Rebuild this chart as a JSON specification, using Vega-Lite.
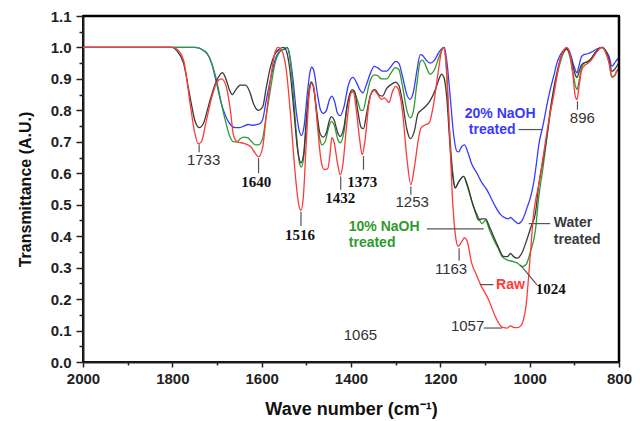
{
  "$schema": "https://vega.github.io/schema/vega-lite/v6.json",
  "width": 536,
  "height": 346,
  "autosize": "none",
  "padding": {"left": 83, "top": 16, "right": 21, "bottom": 59},
  "background": "white",
  "config": {
    "view": {"stroke": "#000", "strokeWidth": 2},
    "font": "Liberation Sans"
  },
  "datasets": {
    "spec": [
      {"s":"20% NaOH","w":2000,"v":1},{"s":"20% NaOH","w":1900,"v":1},{"s":"20% NaOH","w":1800,"v":1},{"s":"20% NaOH","w":1750,"v":1},{"s":"20% NaOH","w":1740,"v":0.998},{"s":"20% NaOH","w":1730,"v":0.99},{"s":"20% NaOH","w":1722,"v":0.98},{"s":"20% NaOH","w":1712,"v":0.95},{"s":"20% NaOH","w":1700,"v":0.88},{"s":"20% NaOH","w":1690,"v":0.82},{"s":"20% NaOH","w":1680,"v":0.78},{"s":"20% NaOH","w":1670,"v":0.755},{"s":"20% NaOH","w":1660,"v":0.745},{"s":"20% NaOH","w":1650,"v":0.745},{"s":"20% NaOH","w":1640,"v":0.75},{"s":"20% NaOH","w":1630,"v":0.755},{"s":"20% NaOH","w":1620,"v":0.752},{"s":"20% NaOH","w":1612,"v":0.755},{"s":"20% NaOH","w":1605,"v":0.757},{"s":"20% NaOH","w":1598,"v":0.77},{"s":"20% NaOH","w":1590,"v":0.83},{"s":"20% NaOH","w":1580,"v":0.9},{"s":"20% NaOH","w":1570,"v":0.96},{"s":"20% NaOH","w":1558,"v":0.99},{"s":"20% NaOH","w":1548,"v":0.995},{"s":"20% NaOH","w":1543,"v":1},{"s":"20% NaOH","w":1538,"v":0.98},{"s":"20% NaOH","w":1530,"v":0.9},{"s":"20% NaOH","w":1522,"v":0.79},{"s":"20% NaOH","w":1515,"v":0.73},{"s":"20% NaOH","w":1511,"v":0.72},{"s":"20% NaOH","w":1505,"v":0.75},{"s":"20% NaOH","w":1498,"v":0.85},{"s":"20% NaOH","w":1492,"v":0.92},{"s":"20% NaOH","w":1488,"v":0.937},{"s":"20% NaOH","w":1483,"v":0.925},{"s":"20% NaOH","w":1476,"v":0.86},{"s":"20% NaOH","w":1468,"v":0.8},{"s":"20% NaOH","w":1462,"v":0.79},{"s":"20% NaOH","w":1455,"v":0.8},{"s":"20% NaOH","w":1448,"v":0.835},{"s":"20% NaOH","w":1443,"v":0.845},{"s":"20% NaOH","w":1437,"v":0.83},{"s":"20% NaOH","w":1430,"v":0.79},{"s":"20% NaOH","w":1424,"v":0.783},{"s":"20% NaOH","w":1416,"v":0.81},{"s":"20% NaOH","w":1406,"v":0.88},{"s":"20% NaOH","w":1396,"v":0.905},{"s":"20% NaOH","w":1388,"v":0.89},{"s":"20% NaOH","w":1380,"v":0.865},{"s":"20% NaOH","w":1373,"v":0.856},{"s":"20% NaOH","w":1366,"v":0.88},{"s":"20% NaOH","w":1356,"v":0.92},{"s":"20% NaOH","w":1348,"v":0.94},{"s":"20% NaOH","w":1340,"v":0.935},{"s":"20% NaOH","w":1330,"v":0.925},{"s":"20% NaOH","w":1320,"v":0.925},{"s":"20% NaOH","w":1310,"v":0.94},{"s":"20% NaOH","w":1300,"v":0.956},{"s":"20% NaOH","w":1293,"v":0.95},{"s":"20% NaOH","w":1285,"v":0.91},{"s":"20% NaOH","w":1275,"v":0.85},{"s":"20% NaOH","w":1268,"v":0.835},{"s":"20% NaOH","w":1260,"v":0.86},{"s":"20% NaOH","w":1252,"v":0.93},{"s":"20% NaOH","w":1245,"v":0.977},{"s":"20% NaOH","w":1240,"v":0.975},{"s":"20% NaOH","w":1232,"v":0.96},{"s":"20% NaOH","w":1223,"v":0.95},{"s":"20% NaOH","w":1213,"v":0.96},{"s":"20% NaOH","w":1203,"v":0.985},{"s":"20% NaOH","w":1195,"v":0.998},{"s":"20% NaOH","w":1191,"v":1},{"s":"20% NaOH","w":1185,"v":0.95},{"s":"20% NaOH","w":1178,"v":0.845},{"s":"20% NaOH","w":1170,"v":0.72},{"s":"20% NaOH","w":1163,"v":0.67},{"s":"20% NaOH","w":1159,"v":0.668},{"s":"20% NaOH","w":1152,"v":0.685},{"s":"20% NaOH","w":1146,"v":0.69},{"s":"20% NaOH","w":1138,"v":0.665},{"s":"20% NaOH","w":1130,"v":0.63},{"s":"20% NaOH","w":1118,"v":0.6},{"s":"20% NaOH","w":1107,"v":0.57},{"s":"20% NaOH","w":1096,"v":0.548},{"s":"20% NaOH","w":1086,"v":0.52},{"s":"20% NaOH","w":1077,"v":0.495},{"s":"20% NaOH","w":1066,"v":0.47},{"s":"20% NaOH","w":1055,"v":0.458},{"s":"20% NaOH","w":1048,"v":0.455},{"s":"20% NaOH","w":1043,"v":0.46},{"s":"20% NaOH","w":1035,"v":0.45},{"s":"20% NaOH","w":1025,"v":0.44},{"s":"20% NaOH","w":1015,"v":0.455},{"s":"20% NaOH","w":1006,"v":0.49},{"s":"20% NaOH","w":997,"v":0.53},{"s":"20% NaOH","w":991,"v":0.57},{"s":"20% NaOH","w":985,"v":0.63},{"s":"20% NaOH","w":980,"v":0.686},{"s":"20% NaOH","w":969,"v":0.76},{"s":"20% NaOH","w":961,"v":0.82},{"s":"20% NaOH","w":954,"v":0.866},{"s":"20% NaOH","w":946,"v":0.91},{"s":"20% NaOH","w":939,"v":0.95},{"s":"20% NaOH","w":932,"v":0.975},{"s":"20% NaOH","w":925,"v":0.99},{"s":"20% NaOH","w":917,"v":0.997},{"s":"20% NaOH","w":910,"v":0.985},{"s":"20% NaOH","w":903,"v":0.95},{"s":"20% NaOH","w":897,"v":0.925},{"s":"20% NaOH","w":894,"v":0.919},{"s":"20% NaOH","w":890,"v":0.94},{"s":"20% NaOH","w":884,"v":0.97},{"s":"20% NaOH","w":879,"v":0.977},{"s":"20% NaOH","w":870,"v":0.98},{"s":"20% NaOH","w":862,"v":0.985},{"s":"20% NaOH","w":850,"v":0.995},{"s":"20% NaOH","w":838,"v":1},{"s":"20% NaOH","w":830,"v":0.99},{"s":"20% NaOH","w":822,"v":0.97},{"s":"20% NaOH","w":816,"v":0.94},{"s":"20% NaOH","w":810,"v":0.95},{"s":"20% NaOH","w":805,"v":0.96},{"s":"20% NaOH","w":800,"v":0.967},

      {"s":"10% NaOH","w":2000,"v":1},{"s":"10% NaOH","w":1900,"v":1},{"s":"10% NaOH","w":1800,"v":1},{"s":"10% NaOH","w":1750,"v":1},{"s":"10% NaOH","w":1740,"v":0.998},{"s":"10% NaOH","w":1730,"v":0.99},{"s":"10% NaOH","w":1722,"v":0.98},{"s":"10% NaOH","w":1712,"v":0.95},{"s":"10% NaOH","w":1700,"v":0.89},{"s":"10% NaOH","w":1690,"v":0.82},{"s":"10% NaOH","w":1680,"v":0.76},{"s":"10% NaOH","w":1672,"v":0.72},{"s":"10% NaOH","w":1663,"v":0.7},{"s":"10% NaOH","w":1655,"v":0.7},{"s":"10% NaOH","w":1648,"v":0.71},{"s":"10% NaOH","w":1640,"v":0.715},{"s":"10% NaOH","w":1632,"v":0.713},{"s":"10% NaOH","w":1622,"v":0.7},{"s":"10% NaOH","w":1614,"v":0.69},{"s":"10% NaOH","w":1607,"v":0.69},{"s":"10% NaOH","w":1598,"v":0.71},{"s":"10% NaOH","w":1590,"v":0.78},{"s":"10% NaOH","w":1580,"v":0.87},{"s":"10% NaOH","w":1570,"v":0.95},{"s":"10% NaOH","w":1560,"v":0.985},{"s":"10% NaOH","w":1550,"v":0.995},{"s":"10% NaOH","w":1543,"v":1},{"s":"10% NaOH","w":1538,"v":0.98},{"s":"10% NaOH","w":1530,"v":0.87},{"s":"10% NaOH","w":1522,"v":0.72},{"s":"10% NaOH","w":1515,"v":0.63},{"s":"10% NaOH","w":1511,"v":0.62},{"s":"10% NaOH","w":1506,"v":0.65},{"s":"10% NaOH","w":1500,"v":0.76},{"s":"10% NaOH","w":1493,"v":0.87},{"s":"10% NaOH","w":1489,"v":0.89},{"s":"10% NaOH","w":1484,"v":0.875},{"s":"10% NaOH","w":1477,"v":0.79},{"s":"10% NaOH","w":1470,"v":0.71},{"s":"10% NaOH","w":1465,"v":0.69},{"s":"10% NaOH","w":1458,"v":0.7},{"s":"10% NaOH","w":1450,"v":0.745},{"s":"10% NaOH","w":1444,"v":0.765},{"s":"10% NaOH","w":1438,"v":0.755},{"s":"10% NaOH","w":1430,"v":0.71},{"s":"10% NaOH","w":1424,"v":0.697},{"s":"10% NaOH","w":1416,"v":0.73},{"s":"10% NaOH","w":1408,"v":0.82},{"s":"10% NaOH","w":1398,"v":0.86},{"s":"10% NaOH","w":1392,"v":0.855},{"s":"10% NaOH","w":1385,"v":0.83},{"s":"10% NaOH","w":1378,"v":0.8},{"s":"10% NaOH","w":1373,"v":0.8},{"s":"10% NaOH","w":1366,"v":0.84},{"s":"10% NaOH","w":1358,"v":0.89},{"s":"10% NaOH","w":1348,"v":0.913},{"s":"10% NaOH","w":1340,"v":0.91},{"s":"10% NaOH","w":1332,"v":0.9},{"s":"10% NaOH","w":1320,"v":0.9},{"s":"10% NaOH","w":1310,"v":0.92},{"s":"10% NaOH","w":1301,"v":0.936},{"s":"10% NaOH","w":1293,"v":0.93},{"s":"10% NaOH","w":1285,"v":0.88},{"s":"10% NaOH","w":1275,"v":0.8},{"s":"10% NaOH","w":1267,"v":0.776},{"s":"10% NaOH","w":1260,"v":0.8},{"s":"10% NaOH","w":1252,"v":0.89},{"s":"10% NaOH","w":1245,"v":0.955},{"s":"10% NaOH","w":1240,"v":0.96},{"s":"10% NaOH","w":1232,"v":0.94},{"s":"10% NaOH","w":1223,"v":0.915},{"s":"10% NaOH","w":1213,"v":0.93},{"s":"10% NaOH","w":1203,"v":0.97},{"s":"10% NaOH","w":1197,"v":0.99},{"s":"10% NaOH","w":1193,"v":1},{"s":"10% NaOH","w":1188,"v":0.96},{"s":"10% NaOH","w":1180,"v":0.75},{"s":"10% NaOH","w":1172,"v":0.6},{"s":"10% NaOH","w":1167,"v":0.555},{"s":"10% NaOH","w":1158,"v":0.575},{"s":"10% NaOH","w":1148,"v":0.59},{"s":"10% NaOH","w":1140,"v":0.56},{"s":"10% NaOH","w":1126,"v":0.495},{"s":"10% NaOH","w":1115,"v":0.46},{"s":"10% NaOH","w":1107,"v":0.44},{"s":"10% NaOH","w":1099,"v":0.45},{"s":"10% NaOH","w":1090,"v":0.42},{"s":"10% NaOH","w":1081,"v":0.39},{"s":"10% NaOH","w":1070,"v":0.36},{"s":"10% NaOH","w":1062,"v":0.336},{"s":"10% NaOH","w":1048,"v":0.323},{"s":"10% NaOH","w":1038,"v":0.32},{"s":"10% NaOH","w":1028,"v":0.315},{"s":"10% NaOH","w":1017,"v":0.303},{"s":"10% NaOH","w":1008,"v":0.31},{"s":"10% NaOH","w":999,"v":0.347},{"s":"10% NaOH","w":987,"v":0.42},{"s":"10% NaOH","w":980,"v":0.52},{"s":"10% NaOH","w":969,"v":0.63},{"s":"10% NaOH","w":961,"v":0.72},{"s":"10% NaOH","w":954,"v":0.79},{"s":"10% NaOH","w":946,"v":0.86},{"s":"10% NaOH","w":939,"v":0.91},{"s":"10% NaOH","w":930,"v":0.96},{"s":"10% NaOH","w":925,"v":0.98},{"s":"10% NaOH","w":917,"v":0.995},{"s":"10% NaOH","w":910,"v":0.97},{"s":"10% NaOH","w":903,"v":0.92},{"s":"10% NaOH","w":897,"v":0.875},{"s":"10% NaOH","w":894,"v":0.866},{"s":"10% NaOH","w":890,"v":0.89},{"s":"10% NaOH","w":884,"v":0.935},{"s":"10% NaOH","w":879,"v":0.95},{"s":"10% NaOH","w":870,"v":0.955},{"s":"10% NaOH","w":862,"v":0.965},{"s":"10% NaOH","w":850,"v":0.99},{"s":"10% NaOH","w":838,"v":1},{"s":"10% NaOH","w":830,"v":0.985},{"s":"10% NaOH","w":822,"v":0.95},{"s":"10% NaOH","w":816,"v":0.905},{"s":"10% NaOH","w":810,"v":0.91},{"s":"10% NaOH","w":805,"v":0.925},{"s":"10% NaOH","w":800,"v":0.935},

      {"s":"Water","w":2000,"v":1},{"s":"Water","w":1900,"v":1},{"s":"Water","w":1800,"v":1},{"s":"Water","w":1790,"v":0.99},{"s":"Water","w":1775,"v":0.95},{"s":"Water","w":1760,"v":0.84},{"s":"Water","w":1750,"v":0.77},{"s":"Water","w":1740,"v":0.745},{"s":"Water","w":1730,"v":0.76},{"s":"Water","w":1718,"v":0.82},{"s":"Water","w":1705,"v":0.88},{"s":"Water","w":1695,"v":0.91},{"s":"Water","w":1688,"v":0.92},{"s":"Water","w":1680,"v":0.9},{"s":"Water","w":1672,"v":0.865},{"s":"Water","w":1666,"v":0.85},{"s":"Water","w":1658,"v":0.865},{"s":"Water","w":1648,"v":0.88},{"s":"Water","w":1636,"v":0.88},{"s":"Water","w":1627,"v":0.86},{"s":"Water","w":1618,"v":0.82},{"s":"Water","w":1607,"v":0.8},{"s":"Water","w":1598,"v":0.81},{"s":"Water","w":1590,"v":0.87},{"s":"Water","w":1580,"v":0.94},{"s":"Water","w":1570,"v":0.98},{"s":"Water","w":1560,"v":0.995},{"s":"Water","w":1551,"v":1},{"s":"Water","w":1545,"v":0.99},{"s":"Water","w":1537,"v":0.93},{"s":"Water","w":1528,"v":0.8},{"s":"Water","w":1520,"v":0.68},{"s":"Water","w":1512,"v":0.633},{"s":"Water","w":1506,"v":0.66},{"s":"Water","w":1500,"v":0.77},{"s":"Water","w":1493,"v":0.87},{"s":"Water","w":1489,"v":0.89},{"s":"Water","w":1484,"v":0.875},{"s":"Water","w":1477,"v":0.8},{"s":"Water","w":1469,"v":0.725},{"s":"Water","w":1462,"v":0.715},{"s":"Water","w":1455,"v":0.73},{"s":"Water","w":1449,"v":0.765},{"s":"Water","w":1444,"v":0.78},{"s":"Water","w":1438,"v":0.77},{"s":"Water","w":1430,"v":0.73},{"s":"Water","w":1424,"v":0.717},{"s":"Water","w":1416,"v":0.745},{"s":"Water","w":1408,"v":0.82},{"s":"Water","w":1398,"v":0.866},{"s":"Water","w":1392,"v":0.86},{"s":"Water","w":1385,"v":0.8},{"s":"Water","w":1377,"v":0.745},{"s":"Water","w":1372,"v":0.742},{"s":"Water","w":1365,"v":0.79},{"s":"Water","w":1356,"v":0.85},{"s":"Water","w":1346,"v":0.866},{"s":"Water","w":1338,"v":0.85},{"s":"Water","w":1330,"v":0.845},{"s":"Water","w":1320,"v":0.87},{"s":"Water","w":1307,"v":0.885},{"s":"Water","w":1300,"v":0.89},{"s":"Water","w":1293,"v":0.88},{"s":"Water","w":1285,"v":0.83},{"s":"Water","w":1275,"v":0.74},{"s":"Water","w":1267,"v":0.71},{"s":"Water","w":1258,"v":0.735},{"s":"Water","w":1250,"v":0.79},{"s":"Water","w":1243,"v":0.8},{"s":"Water","w":1235,"v":0.81},{"s":"Water","w":1223,"v":0.83},{"s":"Water","w":1210,"v":0.87},{"s":"Water","w":1203,"v":0.9},{"s":"Water","w":1197,"v":0.915},{"s":"Water","w":1192,"v":0.905},{"s":"Water","w":1185,"v":0.83},{"s":"Water","w":1178,"v":0.68},{"s":"Water","w":1170,"v":0.57},{"s":"Water","w":1167,"v":0.553},{"s":"Water","w":1158,"v":0.575},{"s":"Water","w":1148,"v":0.59},{"s":"Water","w":1140,"v":0.565},{"s":"Water","w":1129,"v":0.51},{"s":"Water","w":1120,"v":0.47},{"s":"Water","w":1115,"v":0.452},{"s":"Water","w":1107,"v":0.455},{"s":"Water","w":1099,"v":0.455},{"s":"Water","w":1090,"v":0.43},{"s":"Water","w":1081,"v":0.4},{"s":"Water","w":1070,"v":0.365},{"s":"Water","w":1059,"v":0.336},{"s":"Water","w":1050,"v":0.335},{"s":"Water","w":1043,"v":0.345},{"s":"Water","w":1036,"v":0.335},{"s":"Water","w":1028,"v":0.33},{"s":"Water","w":1018,"v":0.345},{"s":"Water","w":1006,"v":0.39},{"s":"Water","w":997,"v":0.43},{"s":"Water","w":987,"v":0.474},{"s":"Water","w":980,"v":0.56},{"s":"Water","w":969,"v":0.65},{"s":"Water","w":961,"v":0.72},{"s":"Water","w":954,"v":0.8},{"s":"Water","w":946,"v":0.87},{"s":"Water","w":939,"v":0.92},{"s":"Water","w":930,"v":0.97},{"s":"Water","w":925,"v":0.985},{"s":"Water","w":917,"v":0.995},{"s":"Water","w":910,"v":0.98},{"s":"Water","w":903,"v":0.94},{"s":"Water","w":897,"v":0.91},{"s":"Water","w":894,"v":0.904},{"s":"Water","w":890,"v":0.92},{"s":"Water","w":884,"v":0.945},{"s":"Water","w":879,"v":0.95},{"s":"Water","w":870,"v":0.955},{"s":"Water","w":862,"v":0.965},{"s":"Water","w":850,"v":0.99},{"s":"Water","w":838,"v":1},{"s":"Water","w":830,"v":0.99},{"s":"Water","w":822,"v":0.96},{"s":"Water","w":816,"v":0.924},{"s":"Water","w":810,"v":0.93},{"s":"Water","w":805,"v":0.94},{"s":"Water","w":800,"v":0.95},

      {"s":"Raw","w":2000,"v":1},{"s":"Raw","w":1900,"v":1},{"s":"Raw","w":1800,"v":1},{"s":"Raw","w":1790,"v":0.995},{"s":"Raw","w":1775,"v":0.96},{"s":"Raw","w":1760,"v":0.82},{"s":"Raw","w":1750,"v":0.73},{"s":"Raw","w":1742,"v":0.694},{"s":"Raw","w":1735,"v":0.7},{"s":"Raw","w":1725,"v":0.76},{"s":"Raw","w":1712,"v":0.84},{"s":"Raw","w":1700,"v":0.89},{"s":"Raw","w":1690,"v":0.9},{"s":"Raw","w":1680,"v":0.88},{"s":"Raw","w":1670,"v":0.8},{"s":"Raw","w":1663,"v":0.72},{"s":"Raw","w":1655,"v":0.7},{"s":"Raw","w":1640,"v":0.695},{"s":"Raw","w":1625,"v":0.685},{"s":"Raw","w":1615,"v":0.665},{"s":"Raw","w":1607,"v":0.652},{"s":"Raw","w":1598,"v":0.68},{"s":"Raw","w":1590,"v":0.78},{"s":"Raw","w":1580,"v":0.9},{"s":"Raw","w":1570,"v":0.985},{"s":"Raw","w":1563,"v":1},{"s":"Raw","w":1555,"v":0.99},{"s":"Raw","w":1545,"v":0.93},{"s":"Raw","w":1535,"v":0.78},{"s":"Raw","w":1525,"v":0.6},{"s":"Raw","w":1517,"v":0.5},{"s":"Raw","w":1512,"v":0.482},{"s":"Raw","w":1507,"v":0.52},{"s":"Raw","w":1500,"v":0.7},{"s":"Raw","w":1493,"v":0.86},{"s":"Raw","w":1488,"v":0.886},{"s":"Raw","w":1482,"v":0.86},{"s":"Raw","w":1475,"v":0.75},{"s":"Raw","w":1467,"v":0.64},{"s":"Raw","w":1460,"v":0.612},{"s":"Raw","w":1452,"v":0.615},{"s":"Raw","w":1447,"v":0.66},{"s":"Raw","w":1443,"v":0.713},{"s":"Raw","w":1438,"v":0.7},{"s":"Raw","w":1430,"v":0.63},{"s":"Raw","w":1424,"v":0.595},{"s":"Raw","w":1418,"v":0.63},{"s":"Raw","w":1410,"v":0.75},{"s":"Raw","w":1400,"v":0.855},{"s":"Raw","w":1395,"v":0.86},{"s":"Raw","w":1388,"v":0.8},{"s":"Raw","w":1380,"v":0.7},{"s":"Raw","w":1375,"v":0.659},{"s":"Raw","w":1369,"v":0.7},{"s":"Raw","w":1360,"v":0.82},{"s":"Raw","w":1350,"v":0.866},{"s":"Raw","w":1340,"v":0.85},{"s":"Raw","w":1332,"v":0.835},{"s":"Raw","w":1325,"v":0.84},{"s":"Raw","w":1315,"v":0.825},{"s":"Raw","w":1307,"v":0.86},{"s":"Raw","w":1300,"v":0.876},{"s":"Raw","w":1295,"v":0.87},{"s":"Raw","w":1285,"v":0.8},{"s":"Raw","w":1275,"v":0.65},{"s":"Raw","w":1266,"v":0.564},{"s":"Raw","w":1258,"v":0.62},{"s":"Raw","w":1250,"v":0.7},{"s":"Raw","w":1243,"v":0.745},{"s":"Raw","w":1232,"v":0.755},{"s":"Raw","w":1225,"v":0.76},{"s":"Raw","w":1215,"v":0.82},{"s":"Raw","w":1205,"v":0.92},{"s":"Raw","w":1197,"v":0.99},{"s":"Raw","w":1193,"v":1},{"s":"Raw","w":1188,"v":0.97},{"s":"Raw","w":1180,"v":0.75},{"s":"Raw","w":1172,"v":0.5},{"s":"Raw","w":1165,"v":0.39},{"s":"Raw","w":1160,"v":0.368},{"s":"Raw","w":1153,"v":0.38},{"s":"Raw","w":1146,"v":0.395},{"s":"Raw","w":1140,"v":0.385},{"s":"Raw","w":1130,"v":0.315},{"s":"Raw","w":1120,"v":0.28},{"s":"Raw","w":1110,"v":0.246},{"s":"Raw","w":1092,"v":0.198},{"s":"Raw","w":1077,"v":0.145},{"s":"Raw","w":1065,"v":0.115},{"s":"Raw","w":1058,"v":0.109},{"s":"Raw","w":1050,"v":0.108},{"s":"Raw","w":1043,"v":0.115},{"s":"Raw","w":1036,"v":0.11},{"s":"Raw","w":1028,"v":0.109},{"s":"Raw","w":1020,"v":0.115},{"s":"Raw","w":1014,"v":0.134},{"s":"Raw","w":1008,"v":0.18},{"s":"Raw","w":1003,"v":0.26},{"s":"Raw","w":997,"v":0.37},{"s":"Raw","w":992,"v":0.46},{"s":"Raw","w":986,"v":0.52},{"s":"Raw","w":980,"v":0.56},{"s":"Raw","w":969,"v":0.66},{"s":"Raw","w":958,"v":0.76},{"s":"Raw","w":946,"v":0.85},{"s":"Raw","w":935,"v":0.94},{"s":"Raw","w":924,"v":0.99},{"s":"Raw","w":917,"v":1},{"s":"Raw","w":910,"v":0.98},{"s":"Raw","w":903,"v":0.91},{"s":"Raw","w":898,"v":0.845},{"s":"Raw","w":894,"v":0.834},{"s":"Raw","w":890,"v":0.87},{"s":"Raw","w":884,"v":0.925},{"s":"Raw","w":879,"v":0.94},{"s":"Raw","w":870,"v":0.95},{"s":"Raw","w":862,"v":0.96},{"s":"Raw","w":850,"v":0.985},{"s":"Raw","w":838,"v":1},{"s":"Raw","w":830,"v":0.985},{"s":"Raw","w":822,"v":0.95},{"s":"Raw","w":816,"v":0.908},{"s":"Raw","w":810,"v":0.91},{"s":"Raw","w":805,"v":0.925},{"s":"Raw","w":800,"v":0.93}
    ],
    "lead": [
      {"w":1740,"w2":1740,"v":0.692,"v2":0.667},
      {"w":1607,"w2":1607,"v":0.648,"v2":0.6},
      {"w":1512,"w2":1512,"v":0.478,"v2":0.432},
      {"w":1423,"w2":1423,"v":0.59,"v2":0.548},
      {"w":1372,"w2":1372,"v":0.655,"v2":0.611},
      {"w":1266,"w2":1266,"v":0.558,"v2":0.532},
      {"w":893,"w2":893,"v":0.829,"v2":0.802},
      {"w":1158,"w2":1158,"v":0.362,"v2":0.322},
      {"w":1103,"w2":1062,"v":0.108,"v2":0.108},
      {"w":1021,"w2":984,"v":0.309,"v2":0.246},
      {"w":1111,"w2":1081,"v":0.246,"v2":0.246},
      {"w":1230,"w2":1103,"v":0.423,"v2":0.423},
      {"w":1002,"w2":954,"v":0.44,"v2":0.44},
      {"w":1025,"w2":972,"v":0.739,"v2":0.739}
    ],
    "frame": [
      {"w":2000,"w2":800,"v":1.1,"v2":1.1},
      {"w":800,"w2":800,"v":0,"v2":1.1}
    ],
    "num": [
      {"w":1730,"v":0.643,"t":"1733"},
      {"w":1263,"v":0.508,"t":"1253"},
      {"w":882,"v":0.776,"t":"896"},
      {"w":1176,"v":0.297,"t":"1163"},
      {"w":1139,"v":0.113,"t":"1057"},
      {"w":1379,"v":0.087,"t":"1065"}
    ],
    "bnum": [
      {"w":1612,"v":0.571,"t":"1640"},
      {"w":1514,"v":0.405,"t":"1516"},
      {"w":1424,"v":0.521,"t":"1432"},
      {"w":1375,"v":0.572,"t":"1373"},
      {"w":953,"v":0.232,"t":"1024"}
    ],
    "clab": [
      {"s":"20% NaOH","w":1066,"v":0.788,"t":"20% NaOH"},
      {"s":"20% NaOH","w":1084,"v":0.737,"t":"treated"},
      {"s":"Raw","w":1043,"v":0.246,"t":"Raw"}
    ],
    "llab": [
      {"s":"10% NaOH","w":1405,"v":0.428,"t":"10% NaOH"},
      {"s":"10% NaOH","w":1405,"v":0.377,"t":"treated"},
      {"s":"Water","w":946,"v":0.441,"t":"Water"},
      {"s":"Water","w":946,"v":0.389,"t":"treated"}
    ]
  },
  "encoding": {
    "x": {
      "field": "w", "type": "quantitative",
      "scale": {"domain": [800, 2000], "reverse": true, "nice": false, "zero": false},
      "axis": {
        "title": "Wave number (cm⁻¹)",
        "values": [2000, 1900, 1800, 1700, 1600, 1500, 1400, 1300, 1200, 1100, 1000, 900, 800],
        "labelExpr": "datum.value % 200 === 0 ? datum.label : ''",
        "format": "d",
        "labelOverlap": false,
        "labelBound": false,
        "labelFlush": false,
        "grid": false,
        "domainColor": "#222", "domainWidth": 2,
        "tickColor": "#222", "tickWidth": 1.5,
        "tickSize": {"condition": {"test": "datum.value % 200 === 0", "value": 5}, "value": 3},
        "labelFont": "Liberation Sans", "labelFontWeight": "bold", "labelFontSize": 15, "labelColor": "#222",
        "labelPadding": 4,
        "titleFont": "Liberation Sans", "titleFontWeight": "bold", "titleFontSize": 18, "titleColor": "#111",
        "titlePadding": 14
      }
    },
    "y": {
      "field": "v", "type": "quantitative",
      "scale": {"domain": [0, 1.1], "nice": false},
      "axis": {
        "title": "Transmittance (A.U.)",
        "values": [0, 0.05, 0.1, 0.15, 0.2, 0.25, 0.3, 0.35, 0.4, 0.45, 0.5, 0.55, 0.6, 0.65, 0.7, 0.75, 0.8, 0.85, 0.9, 0.95, 1.0, 1.05, 1.1],
        "labelExpr": "abs(datum.value * 10 - round(datum.value * 10)) < 0.001 ? format(datum.value, '.1f') : ''",
        "labelOverlap": false,
        "labelBound": false,
        "labelFlush": false,
        "grid": false,
        "domainColor": "#222", "domainWidth": 2,
        "tickColor": "#222", "tickWidth": 1.5,
        "tickSize": {"condition": {"test": "abs(datum.value * 10 - round(datum.value * 10)) < 0.001", "value": 7}, "value": 4},
        "labelFont": "Liberation Sans", "labelFontWeight": "bold", "labelFontSize": 15, "labelColor": "#222",
        "labelPadding": 5,
        "titleFont": "Liberation Sans", "titleFontWeight": "bold", "titleFontSize": 16, "titleColor": "#111",
        "titlePadding": 17
      }
    }
  },
  "layer": [
    {
      "data": {"name": "spec"},
      "mark": {"type": "line", "strokeWidth": 1.3, "interpolate": "monotone"},
      "encoding": {
        "color": {
          "field": "s", "type": "nominal",
          "scale": {"domain": ["20% NaOH", "10% NaOH", "Water", "Raw"], "range": ["#3a3aff", "#2f9a2f", "#3a3a3a", "#ff3a3a"]},
          "legend": null
        }
      }
    },
    {
      "data": {"name": "lead"},
      "mark": {"type": "rule", "color": "#555", "strokeWidth": 1.2},
      "encoding": {"x2": {"field": "w2"}, "y2": {"field": "v2"}}
    },
    {
      "data": {"name": "num"},
      "mark": {"type": "text", "font": "Liberation Sans", "fontSize": 15, "color": "#333", "align": "center", "baseline": "middle"},
      "encoding": {"text": {"field": "t"}}
    },
    {
      "data": {"name": "bnum"},
      "mark": {"type": "text", "font": "Liberation Serif", "fontWeight": "bold", "fontSize": 15, "color": "#111", "align": "center", "baseline": "middle"},
      "encoding": {"text": {"field": "t"}}
    },
    {
      "data": {"name": "clab"},
      "mark": {"type": "text", "font": "Liberation Sans", "fontWeight": "bold", "fontSize": 14, "align": "center", "baseline": "middle"},
      "encoding": {
        "text": {"field": "t"},
        "color": {"field": "s", "type": "nominal", "legend": null}
      }
    },
    {
      "data": {"name": "llab"},
      "mark": {"type": "text", "font": "Liberation Sans", "fontWeight": "bold", "fontSize": 14, "align": "left", "baseline": "middle"},
      "encoding": {
        "text": {"field": "t"},
        "color": {"field": "s", "type": "nominal", "legend": null}
      }
    },
    {
      "data": {"name": "frame"},
      "mark": {"type": "rule", "color": "#000", "strokeWidth": 2.5},
      "encoding": {"x2": {"field": "w2"}, "y2": {"field": "v2"}}
    }
  ]
}
